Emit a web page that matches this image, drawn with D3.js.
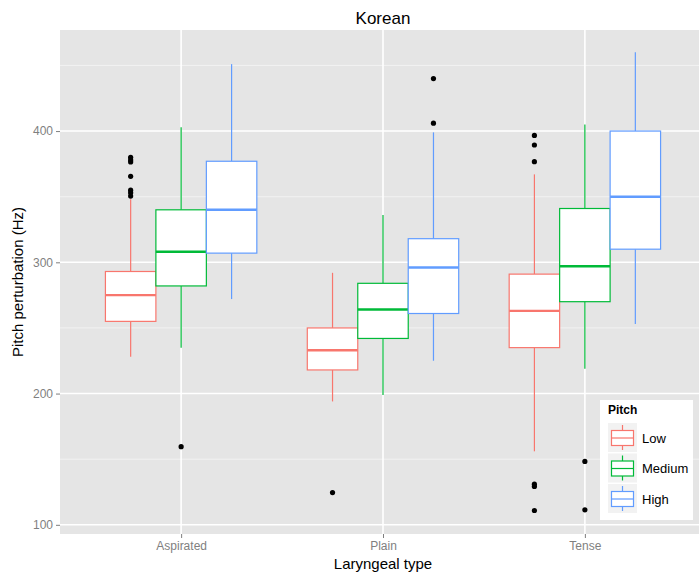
<!DOCTYPE html>
<meta charset="utf-8">
<style>
body { margin: 0; background: #fff; }
svg text { font-family: "Liberation Sans", Arial, sans-serif; }
</style>
<body>
<script src="https://d3js.org/d3.v7.min.js"></script>
<script>

// categories and series
var types = ["Aspirated", "Plain", "Tense"];
var pitches = ["Low", "Medium", "High"];
var colors = ["#F8766D", "#00BA38", "#619CFF"];

// box stats per type, one row per pitch: [lower whisker, q1, median, q3, upper whisker]
var aspiratedStats = [[228, 255, 275, 293, 348], [235, 282, 308, 340, 403], [272, 307, 340, 377, 451]];
var plainStats     = [[194, 218, 233, 250, 292], [199, 242, 264, 284, 336], [225, 261, 296, 318, 399]];
var tenseStats     = [[156, 235, 263, 291, 367], [219, 270, 297, 341, 405], [253, 310, 350, 400, 460]];

// outliers per type, one list per pitch
var aspiratedOut = [[380, 378, 376.5, 365.5, 355, 353, 350.5], [159.5], []];
var plainOut     = [[124.6], [], [440, 406]];
var tenseOut     = [[396.7, 389.4, 376.7, 131, 129.2, 110.9], [148.3, 111.4], []];

var yTicks = [100, 200, 300, 400];
var yMinor = [150, 250, 350, 450];

var statsByType = [aspiratedStats, plainStats, tenseStats];
var outByType = [aspiratedOut, plainOut, tenseOut];

var W = 699, H = 574;
var margin = {top: 30, right: -7, bottom: 40, left: 60};
var width = W - margin.left - margin.right,
    height = H - margin.top - margin.bottom - 0;

var svg = d3.select("body").append("svg")
    .attr("width", W)
    .attr("height", H);

var g = svg.append("g")
    .attr("transform", "translate(" + margin.left + "," + margin.top + ")");

// scales
var x = d3.scalePoint().domain(types).range([0, width]).padding(0.6);
var step = x.step();
var xIn = d3.scaleBand().domain(pitches).range([-step * 0.375, step * 0.375]);
var y = d3.scaleLinear().domain([93, 477]).range([504, 0]);

// panel
g.append("rect")
    .attr("width", width).attr("height", 504)
    .attr("fill", "#E5E5E5");

g.selectAll(".minor").data(yMinor).enter().append("line")
    .attr("x1", 0).attr("x2", width)
    .attr("y1", function(d) { return y(d); }).attr("y2", function(d) { return y(d); })
    .attr("stroke", "#F2F2F2").attr("stroke-width", 1);

g.selectAll(".major").data(yTicks).enter().append("line")
    .attr("x1", 0).attr("x2", width)
    .attr("y1", function(d) { return y(d); }).attr("y2", function(d) { return y(d); })
    .attr("stroke", "#fff").attr("stroke-width", 1.6);

g.selectAll(".vgrid").data(types).enter().append("line")
    .attr("x1", function(d) { return x(d); }).attr("x2", function(d) { return x(d); })
    .attr("y1", 0).attr("y2", 504)
    .attr("stroke", "#fff").attr("stroke-width", 1.6);

// boxes
types.forEach(function(t, ti) {
  pitches.forEach(function(p, pi) {
    var s = statsByType[ti][pi];
    var x0 = x(t) + xIn(p), bw = xIn.bandwidth(), cx = x0 + bw / 2;
    var bg = g.append("g");
    bg.append("line").attr("x1", cx).attr("x2", cx)
        .attr("y1", y(s[4])).attr("y2", y(s[3]))
        .attr("stroke", colors[pi]).attr("stroke-width", 1.2);
    bg.append("line").attr("x1", cx).attr("x2", cx)
        .attr("y1", y(s[1])).attr("y2", y(s[0]))
        .attr("stroke", colors[pi]).attr("stroke-width", 1.2);
    bg.append("rect")
        .attr("x", x0).attr("width", bw)
        .attr("y", y(s[3])).attr("height", y(s[1]) - y(s[3]))
        .attr("fill", "#fff").attr("stroke", colors[pi]).attr("stroke-width", 1.2);
    bg.append("line").attr("x1", x0).attr("x2", x0 + bw)
        .attr("y1", y(s[2])).attr("y2", y(s[2]))
        .attr("stroke", colors[pi]).attr("stroke-width", 2.4);
    bg.selectAll("circle").data(outByType[ti][pi]).enter().append("circle")
        .attr("cx", cx).attr("cy", function(d) { return y(d); })
        .attr("r", 2.6).attr("fill", "#000");
  });
});

// axes
var yAxis = g.append("g").call(d3.axisLeft(y).tickValues(yTicks).tickSize(4).tickPadding(3));
var xAxis = g.append("g").attr("transform", "translate(0,504)")
    .call(d3.axisBottom(x).tickSize(4).tickPadding(3));
[yAxis, xAxis].forEach(function(a) {
  a.select(".domain").remove();
  a.selectAll(".tick line").attr("stroke", "#7F7F7F");
  a.selectAll(".tick text").attr("fill", "#7F7F7F").style("font-size", "12px");
});

// titles
svg.append("text")
    .attr("x", margin.left + width / 2).attr("y", 24)
    .attr("text-anchor", "middle").style("font-size", "17px")
    .text("Korean");

svg.append("text")
    .attr("x", margin.left + width / 2).attr("y", 569)
    .attr("text-anchor", "middle").style("font-size", "15px")
    .text("Laryngeal type");

svg.append("text")
    .attr("transform", "translate(23," + (margin.top + 252) + ") rotate(-90)")
    .attr("text-anchor", "middle").style("font-size", "15px")
    .text("Pitch perturbation (Hz)");

// legend
var lg = svg.append("g").attr("transform", "translate(600,400)");
lg.append("rect").attr("width", 93).attr("height", 120).attr("fill", "#fff");
lg.append("text").attr("x", 8).attr("y", 14)
    .style("font-size", "12px").style("font-weight", "bold").text("Pitch");
pitches.forEach(function(p, i) {
  var k = lg.append("g").attr("transform", "translate(8," + (23 + i * 30.5) + ")");
  k.append("rect").attr("width", 29).attr("height", 29).attr("fill", "#F2F2F2");
  k.append("line").attr("x1", 14.5).attr("x2", 14.5).attr("y1", 2).attr("y2", 27)
      .attr("stroke", colors[i]).attr("stroke-width", 1.2);
  k.append("rect").attr("x", 3.5).attr("y", 7.5).attr("width", 22).attr("height", 15)
      .attr("fill", "#fff").attr("stroke", colors[i]).attr("stroke-width", 1.2);
  k.append("line").attr("x1", 3.5).attr("x2", 25.5).attr("y1", 15).attr("y2", 15)
      .attr("stroke", colors[i]).attr("stroke-width", 1.2);
  k.append("text").attr("x", 34).attr("y", 19.5)
      .style("font-size", "13px").text(p);
});

</script>
</body>
